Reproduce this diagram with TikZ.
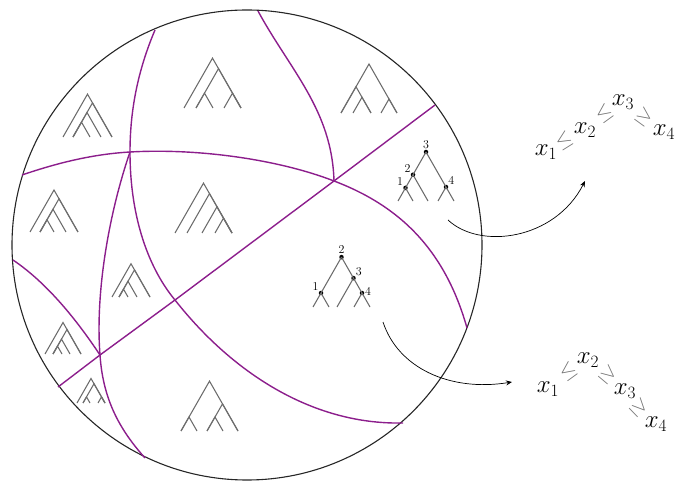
\documentclass[tikz,border=0pt]{standalone}
\usetikzlibrary{arrows.meta}
\definecolor{geod}{RGB}{140,30,140}
\definecolor{treegrey}{RGB}{110,110,110}
\definecolor{relgrey}{RGB}{115,115,115}
\newcommand{\clade}[3]{\draw[tree] (#1,#3) -- ({(#1+#2)/2},{#3-0.875*(#2-#1)}) -- (#2,#3);}

\begin{document}
\begin{tikzpicture}[
    x=1pt, y=-1pt,
    geo/.style={draw=geod, line width=1.4pt},
    tree/.style={draw=treegrey, line width=1.1pt},
    dot/.style={circle, fill=black, inner sep=0pt, minimum size=4.5pt},
    rank/.style={font=\fontsize{12}{12}\selectfont, inner sep=0.5pt},
    var/.style={font=\fontsize{23}{23}\selectfont, inner sep=0pt},
    rel/.style={font=\fontsize{20}{20}\selectfont, text=relgrey, inner sep=0pt},
    arrow/.style={-{Stealth[length=6pt,width=5pt]}, line width=0.7pt},
    label distance=0pt
  ]
  \useasboundingbox (0,0) rectangle (678,481);
  \coordinate (ctr) at (247,245);
  \draw[line width=1.1pt, draw=black!85] (ctr) circle[radius=235];

  % walls between the regions
  \coordinate (w1) at (130,152);
  \coordinate (w2) at (334,181);
  \coordinate (w3) at (100,355);
  \coordinate (w4) at (175,300);
  \draw[geo] (58,387) -- (w3) -- (w4) -- (w2) -- (435,105);
  \draw[geo] (22,175) .. controls (60,162) and (95,154) .. (w1)
    .. controls (200,148) and (280,160) .. (w2)
    .. controls (400,206) and (445,250) .. (467,328);
  \draw[geo] (155,30) .. controls (138,70) and (130,110) .. (w1)
    .. controls (130,220) and (150,270) .. (w4)
    .. controls (230,370) and (310,425) .. (403,423);
  \draw[geo] (w1) .. controls (110,210) and (95,290) .. (w3)
    .. controls (103,400) and (120,430) .. (145,458);
  \draw[geo] (258,11) .. controls (290,70) and (332,110) .. (w2);
  \draw[geo] (13,260) .. controls (50,285) and (80,325) .. (w3);

  % grey trees
  \foreach \a/\b in {63/112, 73/112, 73/101, 73/90} {\clade{\a}{\b}{137}}
  \foreach \a/\b in {184/241, 196/241, 196/213, 224/241} {\clade{\a}{\b}{108}}
  \foreach \a/\b in {341/397, 341/371, 353/371, 381/397} {\clade{\a}{\b}{113}}
  \foreach \a/\b in {30/78, 40/78, 40/66, 40/54} {\clade{\a}{\b}{232}}
  \foreach \a/\b in {175/232, 187/232, 202/232, 215/232} {\clade{\a}{\b}{233}}
  \foreach \a/\b in {112/150, 119/150, 119/137, 119/128} {\clade{\a}{\b}{297}}
  \foreach \a/\b in {45/81, 53/81, 53/70, 53/62} {\clade{\a}{\b}{354}}
  \foreach \a/\b in {77/105, 83/105, 83/90, 98/105} {\clade{\a}{\b}{403}}
  \foreach \a/\b in {181/238, 181/197, 207/238, 207/223} {\clade{\a}{\b}{431}}

  % ranked tree, top right
  \foreach \x [count=\i] in {398,413,428,438,454} \coordinate (al\i) at (\x,201);
  \node[dot, label={[rank]above:3}] (a3) at (426,152) {};
  \node[dot, label={[rank]above left:2}] (a2) at (413,174.75) {};
  \node[dot, label={[rank]above left:1}] (a1) at (405.5,187.875) {};
  \node[dot, label={[rank]above right:4}] (a4) at (446,187) {};
  \draw[tree] (a3.center) -- (a2.center) -- (a1.center) -- (al1);
  \draw[tree] (a1.center) -- (al2);
  \draw[tree] (a2.center) -- (al3);
  \draw[tree] (a3.center) -- (a4.center) -- (al5);
  \draw[tree] (a4.center) -- (al4);

  % ranked tree, centre
  \foreach \x [count=\i] in {313,329,337,354,370} \coordinate (bl\i) at (\x,307);
  \node[dot, label={[rank]above:2}] (b2) at (341.5,257.125) {};
  \node[dot, label={[rank]above left:1}] (b1) at (321,293) {};
  \node[dot, label={[rank]above right:3}] (b3) at (353.5,278.125) {};
  \node[dot, label={[rank, yshift=2pt]right:4}] (b4) at (362,293) {};
  \draw[tree] (b2.center) -- (b1.center) -- (bl1);
  \draw[tree] (b1.center) -- (bl2);
  \draw[tree] (b2.center) -- (b3.center) -- (b4.center) -- (bl5);
  \draw[tree] (b3.center) -- (bl3);
  \draw[tree] (b4.center) -- (bl4);

  % orderings
  \node[var] (p1) at (546,152) {$x_1$};
  \node[rel, rotate=32] (p12) at (564,141) {$\leq$};
  \node[var] (p2) at (585,130) {$x_2$};
  \node[rel, rotate=36] (p23) at (604,114) {$\leq$};
  \node[var] (p3) at (623,102) {$x_3$};
  \node[rel, rotate=-36] (p34) at (644,117) {$\geq$};
  \node[var] (p4) at (664,132) {$x_4$};

  \node[var] (q1) at (548,389) {$x_1$};
  \node[rel, rotate=36] (q12) at (568,372) {$\leq$};
  \node[var] (q2) at (588,360) {$x_2$};
  \node[rel, rotate=-40] (q23) at (608,375) {$\geq$};
  \node[var] (q3) at (625,391) {$x_3$};
  \node[rel, rotate=-46] (q34) at (639,408) {$\geq$};
  \node[var] (q4) at (656,424) {$x_4$};

  \coordinate (s1) at (448,220);
  \coordinate (e1) at (585,181);
  \coordinate (s2) at (383,322);
  \coordinate (e2) at (512,382);
  \draw[arrow] (s1) .. controls (480,250) and (555,240) .. (e1);
  \draw[arrow] (s2) .. controls (398,368) and (450,392) .. (e2);
\end{tikzpicture}
\end{document}
